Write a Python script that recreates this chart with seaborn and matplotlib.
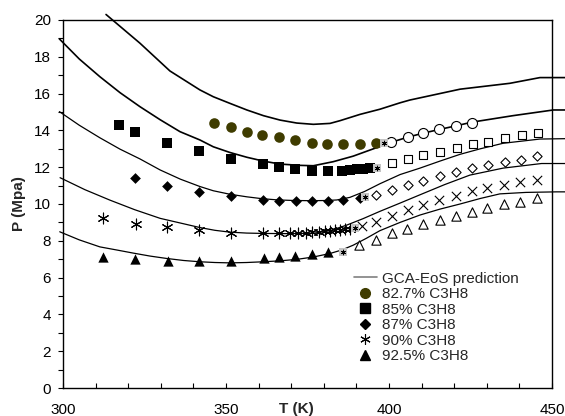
import matplotlib
matplotlib.use('Agg')
import matplotlib.pyplot as plt
import seaborn as sns
from matplotlib.lines import Line2D
from matplotlib.ticker import MultipleLocator

sns.set_theme(style='white')
plt.rcParams['font.family'] = ['Liberation Sans', 'DejaVu Sans']

# ---- GCA-EoS predicted envelopes ----
curveA_T = [313.2, 323.6, 332.8, 342.0, 346.1, 351.2, 356.4, 361.5, 366.6, 371.7, 376.8, 381.9, 385.0, 391.1, 397.2, 403.4, 406.4, 421.8, 437.1, 446.3, 454.0]
curveA_P = [20.3, 18.74, 17.23, 16.2, 15.83, 15.47, 15.11, 14.8, 14.56, 14.4, 14.33, 14.38, 14.53, 14.87, 15.15, 15.5, 15.65, 16.24, 16.56, 16.87, 16.87]
curveB_T = [298.9, 305.0, 311.3, 317.5, 323.6, 329.8, 335.9, 342.0, 346.1, 351.2, 356.4, 361.5, 366.6, 372.7, 376.8, 382.9, 389.0, 396.0, 400.6, 405.7, 410.5, 415.4, 420.6, 425.5, 438.0, 450.4, 454.0]
curveB_P = [18.97, 17.88, 16.92, 16.05, 15.29, 14.58, 13.93, 13.48, 13.11, 12.8, 12.54, 12.33, 12.17, 12.1, 12.08, 12.3, 12.6, 13.05, 13.35, 13.63, 13.85, 14.05, 14.25, 14.45, 14.8, 15.11, 15.11]
curveC_T = [298.9, 305.0, 311.3, 317.5, 323.6, 329.8, 336.0, 342.0, 346.1, 351.2, 356.4, 361.0, 366.0, 371.0, 376.0, 381.0, 384.0, 388.0, 392.5, 397.2, 403.4, 409.5, 415.6, 421.8, 428.0, 435.0, 446.3, 454.0]
curveC_P = [15.02, 14.28, 13.6, 12.98, 12.45, 11.85, 11.35, 10.95, 10.72, 10.53, 10.39, 10.29, 10.22, 10.19, 10.18, 10.19, 10.22, 10.36, 10.68, 11.1, 11.6, 11.95, 12.33, 12.7, 13.0, 13.3, 13.53, 13.55]
curveD_T = [299.1, 306.7, 314.4, 322.0, 329.8, 335.9, 342.0, 346.6, 351.2, 356.3, 361.4, 369.0, 376.8, 381.9, 387.0, 392.0, 397.2, 403.4, 409.5, 417.0, 424.8, 435.0, 446.8, 454.0]
curveD_P = [11.43, 10.78, 10.21, 9.69, 9.22, 8.97, 8.72, 8.57, 8.47, 8.42, 8.4, 8.39, 8.41, 8.55, 8.85, 9.2, 9.6, 10.05, 10.5, 11.05, 11.57, 11.95, 12.2, 12.2]
curveE_T = [299.0, 305.0, 311.3, 316.5, 321.6, 326.7, 331.8, 337.0, 342.0, 346.6, 351.2, 356.3, 361.4, 366.5, 371.7, 376.8, 381.9, 385.5, 389.0, 393.0, 397.2, 403.4, 409.5, 415.6, 421.8, 428.0, 434.0, 442.0, 451.4, 454.0]
curveE_P = [8.49, 8.05, 7.67, 7.5, 7.33, 7.17, 7.04, 6.93, 6.86, 6.82, 6.8, 6.82, 6.86, 6.91, 6.99, 7.12, 7.31, 7.5, 7.76, 8.13, 8.55, 9.0, 9.4, 9.72, 10.0, 10.3, 10.55, 10.63, 10.66, 10.66]

# ---- experimental data: filled = bubble side, open = dew side ----
c827_T = [346.4, 351.5, 356.4, 361.1, 366.3, 371.2, 376.4, 381.0, 385.9, 391.0, 396.0]
c827_P = [14.42, 14.2, 13.93, 13.77, 13.62, 13.48, 13.33, 13.28, 13.27, 13.27, 13.3]
c827o_T = [400.6, 405.7, 410.5, 415.4, 420.6, 425.5]
c827o_P = [13.38, 13.66, 13.87, 14.06, 14.25, 14.4]

c85_T = [317.2, 322.1, 332.0, 341.7, 351.5, 361.4, 366.3, 371.2, 376.3, 381.2, 385.7, 388.0, 390.1, 392.1, 394.2]
c85_P = [14.29, 13.9, 13.32, 12.87, 12.44, 12.15, 12.02, 11.9, 11.8, 11.79, 11.79, 11.84, 11.88, 11.92, 11.95]
c85o_T = [401.0, 405.9, 410.5, 415.6, 420.8, 425.7, 430.5, 435.6, 440.7, 445.6]
c85o_P = [12.21, 12.42, 12.66, 12.84, 13.06, 13.26, 13.38, 13.6, 13.75, 13.84]

c87_T = [322.1, 332.0, 341.7, 351.5, 361.3, 366.3, 371.4, 376.3, 381.4, 385.8, 391.0]
c87_P = [11.39, 10.98, 10.66, 10.41, 10.22, 10.18, 10.16, 10.16, 10.16, 10.21, 10.33]
c87o_T = [396.0, 401.0, 405.7, 410.5, 415.5, 420.7, 425.5, 430.4, 435.5, 440.4, 445.5]
c87o_P = [10.5, 10.74, 11.02, 11.26, 11.52, 11.72, 11.96, 12.12, 12.28, 12.4, 12.62]

c90_T = [312.2, 322.4, 332.0, 341.8, 351.5, 361.3, 366.3, 369.5, 372.0, 374.5, 376.5, 378.5, 380.5, 382.0, 383.5, 385.0, 386.5, 388.0]
c90_P = [9.22, 8.91, 8.73, 8.6, 8.44, 8.4, 8.4, 8.4, 8.42, 8.44, 8.46, 8.5, 8.53, 8.55, 8.58, 8.6, 8.62, 8.65]
c90o_T = [391.6, 396.0, 400.8, 405.9, 410.5, 415.4, 420.6, 425.4, 430.2, 435.3, 440.2, 445.3]
c90o_P = [8.78, 9.03, 9.37, 9.65, 9.95, 10.2, 10.45, 10.7, 10.85, 11.05, 11.2, 11.28]

c925_T = [312.4, 322.1, 332.1, 341.8, 351.5, 361.7, 366.3, 371.2, 376.3, 381.3]
c925_P = [7.13, 7.0, 6.89, 6.88, 6.89, 7.04, 7.13, 7.17, 7.28, 7.38]
c925o_T = [390.9, 396.0, 400.8, 405.6, 410.5, 415.6, 420.6, 425.4, 430.2, 435.3, 440.2, 445.3]
c925o_P = [7.76, 8.07, 8.4, 8.62, 8.9, 9.12, 9.36, 9.58, 9.79, 9.98, 10.12, 10.3]

# critical points (gray markers)
crit_T = [398.5, 396.2, 392.5, 389.5, 385.8]
crit_P = [13.32, 11.94, 10.38, 8.68, 7.4]

legend_labels = ['GCA-EoS prediction', '82.7% C3H8', '85% C3H8', '87% C3H8', '90% C3H8', '92.5% C3H8']

OLIVE = '#3f3c00'
ASTER = (6, 2, 0)
FS = 11

fig = plt.figure(figsize=(5.65, 4.16), dpi=100)
ax = fig.add_axes([63/565, 1-388/416, (552-63)/565, (388-20)/416])
ax.set_facecolor('white')

for T, P, lw in [(curveA_T, curveA_P, 1.2), (curveB_T, curveB_P, 1.2), (curveC_T, curveC_P, 0.9),
                 (curveD_T, curveD_P, 0.9), (curveE_T, curveE_P, 0.9)]:
    sns.lineplot(x=T, y=P, ax=ax, color='black', lw=lw, sort=False, estimator=None)
for ln in ax.lines:
    ln.set_clip_on(False)

def sc(T, P, marker, s, face, edge='black', lw=0.8):
    sns.scatterplot(x=T, y=P, ax=ax, marker=marker, s=s, color=face,
                    edgecolor=edge, linewidth=lw, zorder=3)

# filled
sc(c827_T, c827_P, 'o', 58, OLIVE, edge=OLIVE, lw=0)
sc(c85_T, c85_P, 's', 45, 'black', lw=0)
sc(c87_T, c87_P, 'D', 30, 'black', lw=0)
sns.scatterplot(x=c90_T, y=c90_P, ax=ax, marker=ASTER, s=60, color='black', linewidth=0.8, zorder=3)
sc(c925_T, c925_P, '^', 55, 'black', lw=0)
# open
sc(c827o_T, c827o_P, 'o', 52, 'white')
sc(c85o_T, c85o_P, 's', 38, 'white')
sc(c87o_T, c87o_P, 'D', 22, 'white')
sns.scatterplot(x=c90o_T, y=c90o_P, ax=ax, marker='x', s=45, color='black', linewidth=0.8, zorder=3)
sc(c925o_T, c925o_P, '^', 45, 'white')
# critical points
sc(crit_T, crit_P, 's', 30, '#c4c4c4', edge='#c4c4c4', lw=0)
sns.scatterplot(x=crit_T, y=crit_P, ax=ax, marker=ASTER, s=12, color='black', linewidth=0.6, zorder=4)

ax.set_xlim(300, 450)
ax.set_ylim(0, 20)
ax.xaxis.set_major_locator(MultipleLocator(50))
ax.xaxis.set_minor_locator(MultipleLocator(10))
ax.yaxis.set_major_locator(MultipleLocator(2))
ax.yaxis.set_minor_locator(MultipleLocator(1))
ax.tick_params(axis='x', which='both', direction='in', length=3.6, width=0.8, bottom=True, pad=10.5, labelsize=FS, colors='black')
ax.tick_params(axis='y', which='both', direction='out', length=3.6, width=0.8, left=True, pad=5, labelsize=FS, colors='black')
for sp in ax.spines.values():
    sp.set_color('black')
    sp.set_linewidth(1.0)
ax.set_xlabel('')
ax.set_ylabel('P (Mpa)', fontsize=FS, fontweight='bold', labelpad=6)
fig.text(296/565, 1-408.5/416, 'T (K)', ha='center', va='center', fontsize=FS, fontweight='bold')

handles = [Line2D([], [], color='#808080', lw=1.2),
           Line2D([], [], ls='', marker='o', ms=7, color=OLIVE, mec=OLIVE),
           Line2D([], [], ls='', marker='s', ms=6.5, color='black'),
           Line2D([], [], ls='', marker='D', ms=5.2, color='black'),
           Line2D([], [], ls='', marker=ASTER, ms=7.5, color='black', mew=0.8),
           Line2D([], [], ls='', marker='^', ms=7, color='black')]
ax.legend(handles, legend_labels, loc='upper left', bbox_to_anchor=(354/565, 1-271.5/416),
          bbox_transform=fig.transFigure, frameon=False, fontsize=FS, borderpad=0,
          borderaxespad=0, handlelength=1.5, handletextpad=0.3, labelspacing=0.1)

fig.savefig('out.png', dpi=100, facecolor='white')
